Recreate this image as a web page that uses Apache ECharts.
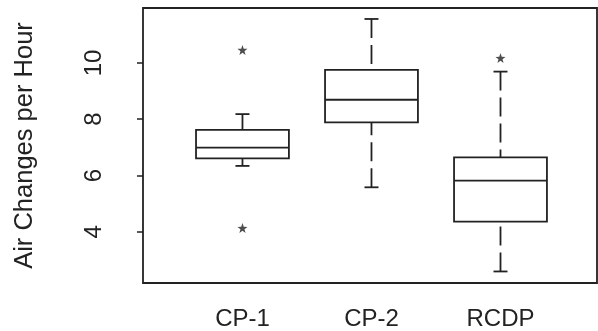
<!DOCTYPE html>
<html>
<head>
<meta charset="utf-8">
<script src="https://cdn.jsdelivr.net/npm/echarts@6/dist/echarts.min.js"></script>
<style>
  html, body { margin: 0; padding: 0; background: #fff; }
  #chart { width: 598px; height: 331px; }
</style>
</head>
<body>
<div id="chart"></div>
<script>
const categories = ['CP-1', 'CP-2', 'RCDP']
const whiskerLow = [6.34, 5.58, 2.59]
const q1 = [6.61, 7.89, 4.36]
const median = [6.99, 8.69, 5.82]
const q3 = [7.62, 9.75, 6.64]
const whiskerHigh = [8.18, 11.56, 9.69]
// [category index, value]
const outliers = [[0, 10.46], [0, 4.13], [2, 10.17]]
const yTicks = [4, 6, 8, 10]

const ink = '#222'
const star = 'path://M0,-10 L2.35,-3.24 L9.51,-3.09 L3.8,1.24 L5.88,8.09 L0,4 L-5.88,8.09 L-3.8,1.24 L-9.51,-3.09 L-2.35,-3.24 Z'

const boxData = categories.map((c, i) => [i + 1, whiskerLow[i], q1[i], median[i], q3[i], whiskerHigh[i]])
const outlierData = outliers.map(o => [o[0] + 1, o[1]])

function renderBox(params, api) {
  const x = api.value(0)
  const half = 0.36
  const pLow = api.coord([x, api.value(1)])
  const pQ1 = api.coord([x, api.value(2)])
  const pMed = api.coord([x, api.value(3)])
  const pQ3 = api.coord([x, api.value(4)])
  const pHigh = api.coord([x, api.value(5)])
  const left = api.coord([x - half, 0])[0]
  const right = api.coord([x + half, 0])[0]
  const cx = pMed[0]
  const cap = 7
  const solid = { stroke: ink, lineWidth: 1.8, fill: null }
  const dashed = { stroke: ink, lineWidth: 1.8, lineDash: [19, 7] }
  return {
    type: 'group',
    children: [
      { type: 'rect', shape: { x: left, y: pQ3[1], width: right - left, height: pQ1[1] - pQ3[1] }, style: solid },
      { type: 'line', shape: { x1: left, y1: pMed[1], x2: right, y2: pMed[1] }, style: solid },
      { type: 'line', shape: { x1: cx, y1: pHigh[1], x2: cx, y2: pQ3[1] }, style: dashed },
      { type: 'line', shape: { x1: cx, y1: pLow[1], x2: cx, y2: pQ1[1] }, style: dashed },
      { type: 'line', shape: { x1: cx - cap, y1: pHigh[1], x2: cx + cap, y2: pHigh[1] }, style: solid },
      { type: 'line', shape: { x1: cx - cap, y1: pLow[1], x2: cx + cap, y2: pLow[1] }, style: solid }
    ]
  }
}

const chart = echarts.init(document.getElementById('chart'))
chart.setOption({
  backgroundColor: '#fff',
  animation: false,
  textStyle: { fontFamily: 'Liberation Sans, Arial, sans-serif', color: ink },
  grid: {
    left: 143, right: 1, top: 8, bottom: 48,
    show: true,
    borderColor: ink,
    borderWidth: 1.8
  },
  xAxis: {
    type: 'value',
    min: 0.229,
    max: 3.748,
    axisLine: { show: false },
    axisTick: { show: false },
    splitLine: { show: false },
    axisLabel: {
      customValues: [1, 2, 3],
      formatter: v => categories[Math.round(v) - 1],
      fontSize: 24,
      color: ink,
      margin: 24
    }
  },
  yAxis: {
    type: 'value',
    min: 2.18,
    max: 11.95,
    name: 'Air Changes per Hour',
    nameLocation: 'middle',
    nameRotate: 90,
    nameGap: 105,
    nameTextStyle: { fontSize: 25.5, color: ink },
    axisLine: { show: false },
    splitLine: { show: false },
    axisTick: {
      show: true,
      customValues: yTicks,
      length: 6,
      lineStyle: { color: ink, width: 1.5 }
    },
    axisLabel: {
      customValues: yTicks,
      rotate: 90,
      fontSize: 24,
      color: ink,
      margin: 37
    }
  },
  series: [
    {
      type: 'custom',
      renderItem: renderBox,
      encode: { x: 0, y: [1, 2, 3, 4, 5] },
      data: boxData
    },
    {
      type: 'scatter',
      symbol: star,
      symbolSize: 10,
      itemStyle: { color: ink },
      data: outlierData
    }
  ]
})
</script>
</body>
</html>
